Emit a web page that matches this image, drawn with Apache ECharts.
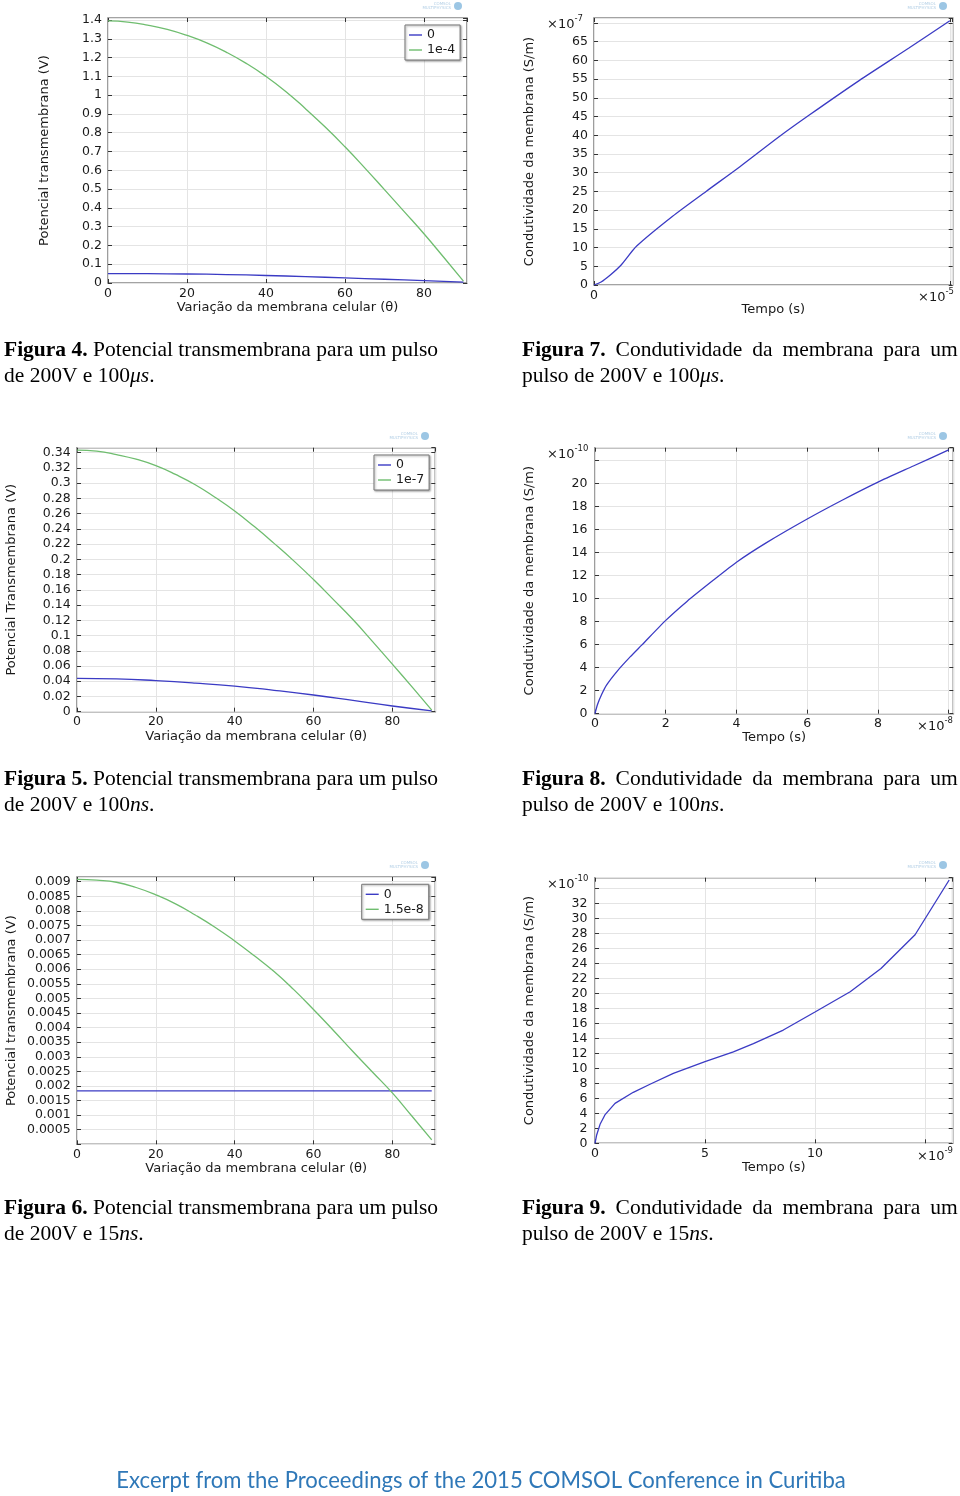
<!DOCTYPE html>
<html><head><meta charset="utf-8">
<script src="https://cdn.jsdelivr.net/npm/echarts@6/dist/echarts.min.js"></script>
<style>html,body{margin:0;padding:0;background:#fff}#c{width:960px;height:1496px}</style>
</head><body><div id="c"></div>
<script>
// ---------------- DATA ----------------
const theta = [0, 10, 20, 30, 40, 50, 60, 70, 80, 90];
const theta5 = [0, 5, 10, 15, 20, 25, 30, 35, 40, 45, 50, 55, 60, 65, 70, 75, 80, 85, 90];
// Figura 4 (100 us)
const fig4_t0 = [0.050, 0.0495, 0.048, 0.045, 0.040, 0.034, 0.027, 0.020, 0.013, 0.005];
const fig4_t1 = [1.395, 1.389, 1.373, 1.350, 1.318, 1.278, 1.228, 1.169, 1.100, 1.020, 0.928, 0.830, 0.725, 0.613, 0.497, 0.380, 0.262, 0.137, 0.010];
// Figura 5 (100 ns)
const fig5_t0 = [0.0438, 0.0431, 0.0408, 0.0376, 0.0336, 0.0281, 0.0219, 0.0148, 0.0075, 0.0012];
const fig5_t1 = [0.3435, 0.3420, 0.3375, 0.3315, 0.323, 0.3115, 0.298, 0.2815, 0.2635, 0.2430, 0.221, 0.1980, 0.1735, 0.1475, 0.121, 0.092, 0.0625, 0.0325, 0.002];
// Figura 6 (15 ns)
const fig6_t0 = [0.00183, 0.00183, 0.00183, 0.00183, 0.00183, 0.00183, 0.00183, 0.00183, 0.00183, 0.00183];
const fig6_t1 = [0.00908, 0.00905, 0.00898, 0.00880, 0.00855, 0.00824, 0.00786, 0.00744, 0.00697, 0.00646, 0.00592, 0.00530, 0.00462, 0.00391, 0.00318, 0.00247, 0.00176, 0.00096, 0.00015];
// Figura 7: tempo (x1e-5 s), condutividade (x1e-7 S/m)
const fig7_time = [0, 0.2, 0.45, 0.75, 1.2, 2.2, 3.15, 4.1, 5.2, 6.05, 7.45, 8.85, 10];
const fig7_sigma = [0, 0.8, 2.6, 5.2, 10.4, 18.3, 25, 31.6, 39.6, 45.4, 54.6, 63.3, 70.6];
// Figura 8: tempo (x1e-8 s), condutividade (x1e-10 S/m)
const fig8_time = [0, 0.066, 0.19, 0.33, 0.63, 1.0, 1.32, 2.0, 2.6, 3.35, 4.0, 4.85, 6.0, 7.0, 8.0, 9.0, 10.0];
const fig8_sigma = [0, 0.75, 1.68, 2.5, 3.7, 4.95, 5.95, 8.1, 9.75, 11.6, 13.15, 14.85, 16.9, 18.55, 20.1, 21.5, 22.9];
// Figura 9: tempo (x1e-9 s), condutividade (x1e-10 S/m)
const fig9_time = [0, 0.076, 0.23, 0.45, 0.91, 1.74, 2.5, 3.56, 5.0, 6.29, 7.2, 8.56, 10.0, 11.6, 13.0, 14.55, 16.1];
const fig9_sigma = [0, 1.11, 2.53, 3.78, 5.33, 6.8, 7.87, 9.33, 10.9, 12.2, 13.3, 15.1, 17.5, 20.2, 23.3, 27.8, 35.1];

// axis ranges [min, max, interval]
const xRange = [[0, 90.9, 20], [0, 10.08, 10], [0, 90.9, 20], [0, 10.13, 2], [0, 90.9, 20], [0, 16.26, 5]];
const yRange = [[0, 1.4107, 0.1], [0, 71.33, 5], [0, 0.3466, 0.02], [0, 23.09, 2], [0, 0.00916, 0.0005], [0, 35.41, 2]];
// tick labels replaced by the multiplier
const xHidden = [[], [10], [], [10], [], [15]];
const yHidden = [[], [70], [], [22], [0], [34]];
const xNames = ['Variação da membrana celular (θ)', 'Tempo (s)', 'Variação da membrana celular (θ)', 'Tempo (s)', 'Variação da membrana celular (θ)', 'Tempo (s)'];
const yNames = ['Potencial transmembrana (V)', 'Condutividade da membrana (S/m)', 'Potencial Transmembrana (V)', 'Condutividade da membrana (S/m)', 'Potencial transmembrana (V)', 'Condutividade da membrana (S/m)'];
const legendNames = [['0', '1e-4'], ['0', '1e-7'], ['0', '1.5e-8']];
const yMultipliers = ['-7', '-10', '-10'];
const xMultipliers = ['-5', '-8', '-9'];

// ---------------- LAYOUT ----------------
const grids = [
  {left: 108, top: 18, width: 359, height: 265},
  {left: 594, top: 18, width: 358.7, height: 267},
  {left: 77, top: 447.7, width: 358.3, height: 264},
  {left: 595, top: 447.7, width: 358.3, height: 266},
  {left: 77, top: 877, width: 358.3, height: 267.3},
  {left: 595, top: 877.7, width: 357.7, height: 265.6}
];
const yLabelMargin = [6, 6, 6.3, 7.5, 6.3, 7.5];
const xNameGap = [17.5, 16.5, 18.5, 17.8, 16, 16.9];
const yNameGap = [57, 58, 59, 59, 59, 59];
const seriesSmooth = [0.25, 0.2, 0];

const SANS = 'DejaVu Sans';
const SERIF = 'Liberation Serif';
const BLUE = '#3b3bc4';
const GREEN = '#6fbd6f';
const TXT = '#1a1a1a';

function tickStyle() { return {show: true, inside: true, length: 4, lineStyle: {color: '#333', width: 1}}; }
const xAxis = [], yAxis = [];
grids.forEach((g, i) => {
  const [xmn, xmx, xiv] = xRange[i];
  const [ymn, ymx, yiv] = yRange[i];
  xAxis.push({
    type: 'value', gridIndex: i, min: xmn, max: xmx, interval: xiv, position: 'bottom',
    axisLine: {show: false, onZero: false}, axisTick: tickStyle(),
    splitLine: {show: true, lineStyle: {color: '#e4e4e4', width: 1}},
    axisLabel: {margin: 4, fontFamily: SANS, fontSize: 12.5, color: TXT, showMaxLabel: false,
      formatter: v => xHidden[i].includes(v) ? '' : String(v)},
    name: xNames[i], nameLocation: 'middle', nameGap: xNameGap[i],
    nameTextStyle: {fontFamily: SANS, fontSize: 13, color: TXT}
  });
  xAxis.push({
    type: 'value', gridIndex: i, min: xmn, max: xmx, interval: xiv, position: 'top',
    axisLine: {show: false, onZero: false}, axisTick: tickStyle(), axisLabel: {show: false}, splitLine: {show: false}
  });
  yAxis.push({
    type: 'value', gridIndex: i, min: ymn, max: ymx, interval: yiv, position: 'left',
    axisLine: {show: false, onZero: false}, axisTick: tickStyle(),
    splitLine: {show: true, lineStyle: {color: '#e4e4e4', width: 1}},
    axisLabel: {margin: yLabelMargin[i], fontFamily: SANS, fontSize: 12.5, color: TXT, showMaxLabel: false,
      formatter: v => yHidden[i].includes(v) ? '' : String(v)},
    name: yNames[i], nameLocation: 'middle', nameGap: yNameGap[i],
    nameTextStyle: {fontFamily: SANS, fontSize: 13, color: TXT}
  });
  yAxis.push({
    type: 'value', gridIndex: i, min: ymn, max: ymx, interval: yiv, position: 'right',
    axisLine: {show: false, onZero: false}, axisTick: tickStyle(), axisLabel: {show: false}, splitLine: {show: false}
  });
});

function pairs(xs, ys) { return xs.map((x, k) => [x, ys[k]]); }
function lineSeries(name, gi, data, color, smooth) {
  return {
    type: 'line', name: name, xAxisIndex: gi * 2, yAxisIndex: gi * 2, data: data,
    symbol: 'none', smooth: smooth, lineStyle: {color: color, width: 1.3}, itemStyle: {color: color},
    animation: false, clip: true, z: 3
  };
}
const series = [
  lineSeries(legendNames[0][0], 0, pairs(theta, fig4_t0), BLUE, true),
  lineSeries(legendNames[0][1], 0, pairs(theta5, fig4_t1), GREEN, true),
  lineSeries('sigma7', 1, pairs(fig7_time, fig7_sigma), BLUE, seriesSmooth[0]),
  lineSeries(legendNames[1][0], 2, pairs(theta, fig5_t0), BLUE, true),
  lineSeries(legendNames[1][1], 2, pairs(theta5, fig5_t1), GREEN, true),
  lineSeries('sigma8', 3, pairs(fig8_time, fig8_sigma), BLUE, seriesSmooth[1]),
  lineSeries(legendNames[2][0], 4, pairs(theta, fig6_t0), BLUE, false),
  lineSeries(legendNames[2][1], 4, pairs(theta5, fig6_t1), GREEN, true),
  lineSeries('sigma9', 5, pairs(fig9_time, fig9_sigma), BLUE, seriesSmooth[2])
];

const legendPos = [{left: 405, top: 25}, {left: 374, top: 455}, {left: 361.7, top: 884.3}];
const legend = legendPos.map((p, k) => ({
  data: legendNames[k], left: p.left, top: p.top, orient: 'vertical',
  icon: 'rect', itemWidth: 13, itemHeight: 1.4, itemGap: 1, padding: [3, 5, 3, 4],
  backgroundColor: '#fff', borderColor: '#777', borderWidth: 1, borderRadius: 0,
  shadowBlur: 2, shadowOffsetX: 1, shadowOffsetY: 1, shadowColor: 'rgba(0,0,0,0.35)',
  textStyle: {fontFamily: SANS, fontSize: 12.5, color: TXT, lineHeight: 14},
  selectedMode: false
}));

// ---------------- TEXT / DECORATION ----------------
const graphic = [];
function mult(x, y, sup) {
  graphic.push({
    type: 'text', x: x, y: y, silent: true,
    style: {
      text: '{m|×10}{s|' + sup + '}', align: 'left', verticalAlign: 'middle',
      rich: {
        m: {fontFamily: SANS, fontSize: 13, fill: TXT, lineHeight: 17, verticalAlign: 'bottom'},
        s: {fontFamily: SANS, fontSize: 8.5, fill: TXT, verticalAlign: 'top'}
      }
    }
  });
}
mult(547, 23, yMultipliers[0]);
mult(547, 452.3, yMultipliers[1]);
mult(547, 882.3, yMultipliers[2]);
mult(918, 296, xMultipliers[0]);
mult(917, 725, xMultipliers[1]);
mult(917, 1154.3, xMultipliers[2]);

function logo(xr, cy) {
  graphic.push({
    type: 'text', x: xr, y: cy, silent: true,
    style: {text: 'COMSOL\nMULTIPHYSICS', align: 'right', verticalAlign: 'middle',
      fontFamily: SANS, fontSize: 4, lineHeight: 4.5, fill: '#b5d0e6'}
  });
  graphic.push({type: 'circle', shape: {cx: xr + 7, cy: cy, r: 4}, silent: true,
    style: {fill: '#9cc6e4'}});
}
logo(451, 6); logo(936, 6); logo(418, 436); logo(936, 436); logo(418, 865); logo(936, 865);

const capRich = {
  b: {fontFamily: SERIF, fontSize: 21.5, fontWeight: 'bold', fill: '#000', lineHeight: 26},
  n: {fontFamily: SERIF, fontSize: 21.5, fill: '#000', lineHeight: 26},
  i: {fontFamily: SERIF, fontSize: 21.5, fontStyle: 'italic', fill: '#000', lineHeight: 26},
  s: {fontFamily: SERIF, fontSize: 21.5, fill: '#000', lineHeight: 26, width: 10}
};
function caption(x, top, text) {
  graphic.push({type: 'text', x: x, y: top, silent: true,
    style: {text: text, align: 'left', verticalAlign: 'top', rich: capRich}});
}
const leftCaps = [
  ['4', 'Potencial transmembrana para um pulso', '100', 'μs'],
  ['5', 'Potencial transmembrana para um pulso', '100', 'ns'],
  ['6', 'Potencial transmembrana para um pulso', '15', 'ns']
];
const rightCaps = [['7', '100', 'μs'], ['8', '100', 'ns'], ['9', '15', 'ns']];
const capTops = [337, 766, 1195];
leftCaps.forEach((c, k) => {
  caption(4, capTops[k], '{b|Figura ' + c[0] + '.}{n| ' + c[1] + '}\n{n|de 200V e ' + c[2] + '}{i|' + c[3] + '}{n|.}');
});
rightCaps.forEach((c, k) => {
  caption(522, capTops[k], '{b|Figura ' + c[0] + '.}{s| }{n|Condutividade}{s| }{n|da}{s| }{n|membrana}{s| }{n|para}{s| }{n|um}\n{n|pulso de 200V e ' + c[1] + '}{i|' + c[2] + '}{n|.}');
});

graphic.push({type: 'text', x: 481, y: 1481, silent: true,
  style: {text: 'Excerpt from the Proceedings of the 2015 COMSOL Conference in Curitiba',
    align: 'center', verticalAlign: 'middle', fontFamily: 'Lato', fontSize: 22.1, fill: '#2f78b8'}});

const chart = echarts.init(document.getElementById('c'), null, {renderer: 'canvas'});
chart.setOption({
  animation: false,
  backgroundColor: '#fff',
  grid: grids.map(g => Object.assign({show: true, borderColor: '#858585', borderWidth: 1.6,
    backgroundColor: 'transparent', containLabel: false, outerBoundsMode: 'none'}, g)),
  xAxis: xAxis,
  yAxis: yAxis,
  legend: legend,
  series: series,
  graphic: graphic
});
</script>
</body></html>
